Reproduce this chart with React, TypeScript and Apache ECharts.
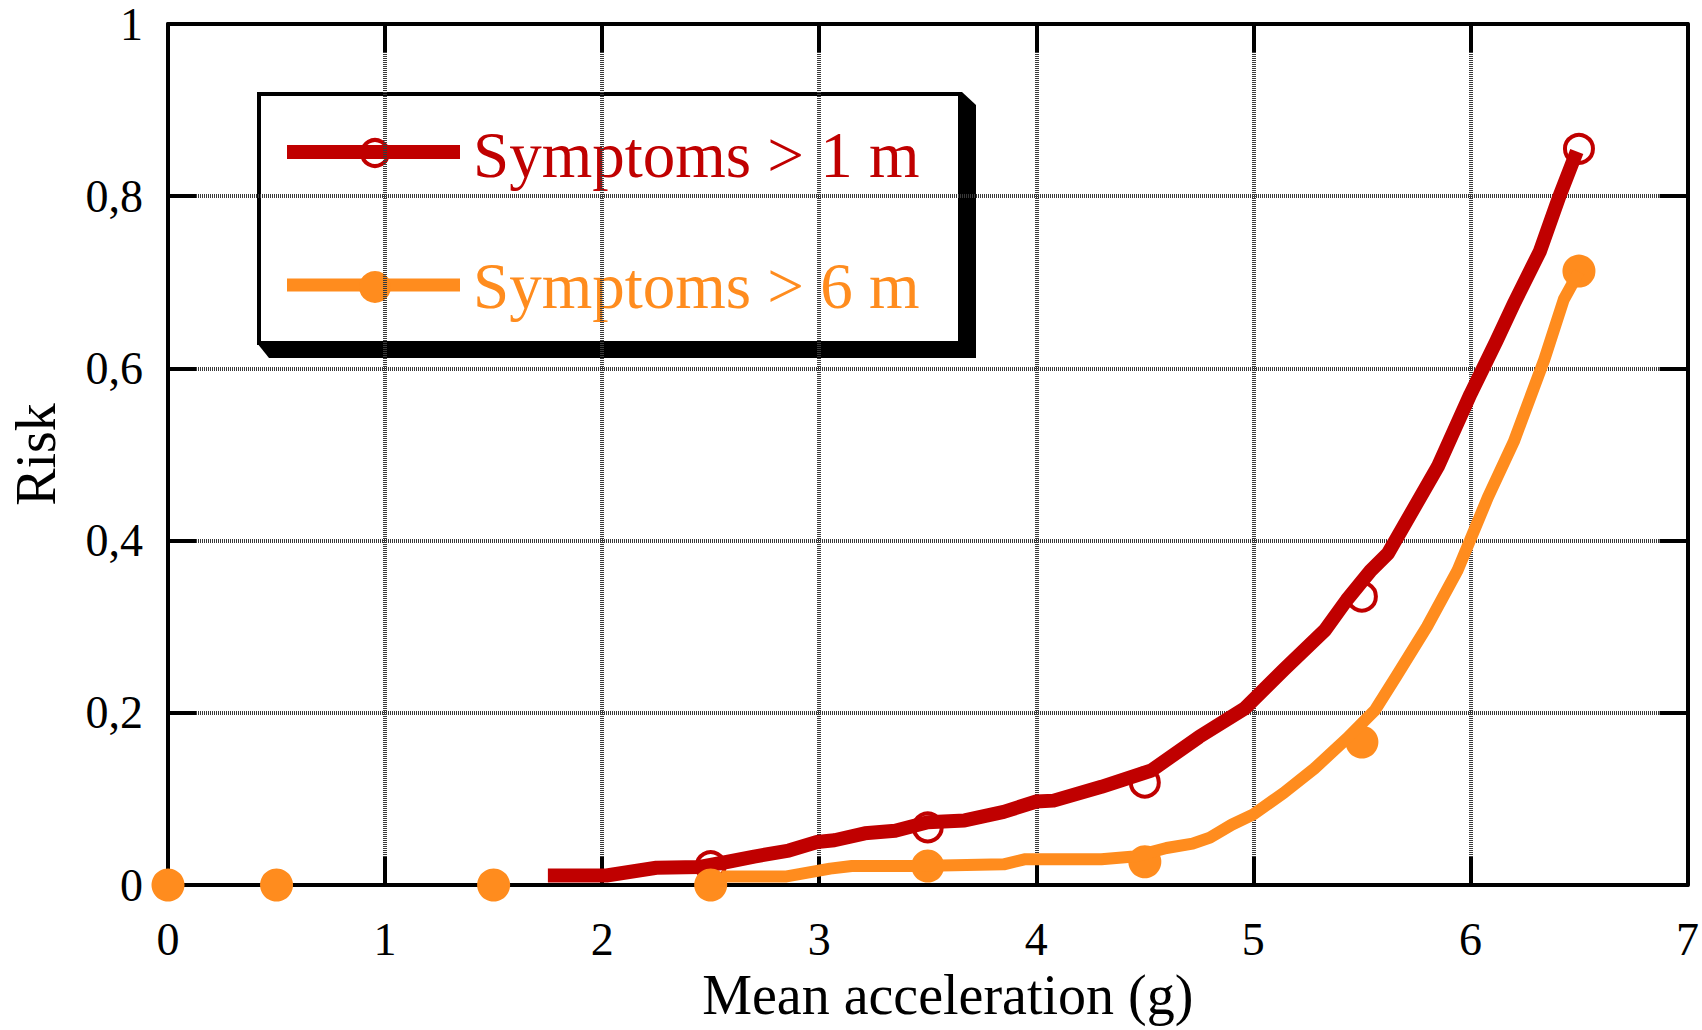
import React, { useEffect, useRef } from 'react';
import * as echarts from 'echarts';

const RED = '#C00000';
const ORANGE = '#FF8C1E';
const FONT = "'Liberation Serif', 'Times New Roman', serif";

const seriesNames = ['Symptoms > 1 m', 'Symptoms > 6 m'];
const xTickLabels = ['0', '1', '2', '3', '4', '5', '6', '7'];
const yTickLabels = ['0', '0,2', '0,4', '0,6', '0,8', '1'];
const xAxisTitle = 'Mean acceleration (g)';
const yAxisTitle = 'Risk';

// observed data points (markers)
const redPointsX = [2.5, 3.5, 4.5, 5.5, 6.5];
const redPointsY = [0.022, 0.067, 0.119, 0.335, 0.855];
const orangePointsX = [0, 0.5, 1.5, 2.5, 3.5, 4.5, 5.5, 6.5];
const orangePointsY = [0, 0, 0, 0, 0.022, 0.027, 0.166, 0.713];

// fitted risk curves
const redCurveX = [1.75, 2.02, 2.25, 2.45, 2.58, 2.7, 2.86, 2.99, 3.07, 3.21, 3.35, 3.5, 3.67, 3.85, 4.0, 4.08, 4.3, 4.53, 4.75, 4.96, 5.14, 5.33, 5.43, 5.54, 5.62, 5.85, 6.0, 6.12, 6.2, 6.32, 6.41, 6.49];
const redCurveY = [0.011, 0.011, 0.02, 0.021, 0.027, 0.033, 0.04, 0.05, 0.052, 0.06, 0.063, 0.073, 0.075, 0.085, 0.097, 0.098, 0.114, 0.133, 0.172, 0.205, 0.25, 0.296, 0.331, 0.365, 0.385, 0.486, 0.57, 0.632, 0.675, 0.736, 0.8, 0.852];
const orangeCurveX = [2.55, 2.85, 3.05, 3.15, 3.45, 3.85, 3.95, 4.3, 4.45, 4.6, 4.72, 4.8, 4.9, 5.0, 5.14, 5.28, 5.43, 5.56, 5.66, 5.8, 5.94, 6.08, 6.2, 6.34, 6.43, 6.5];
const orangeCurveY = [0.01, 0.01, 0.019, 0.022, 0.022, 0.024, 0.03, 0.03, 0.033, 0.043, 0.048, 0.055, 0.07, 0.082, 0.107, 0.135, 0.17, 0.203, 0.243, 0.3, 0.365, 0.45, 0.515, 0.61, 0.68, 0.712];

const zip = (xs: number[], ys: number[]) => xs.map((x, i) => [x, ys[i]]);

const frameAxis = {
  axisLine: { show: true, onZero: false, lineStyle: { color: '#000', width: 4 } },
  axisTick: { show: true, inside: true, length: 28, lineStyle: { color: '#000', width: 4 } },
};

const gridLineStyle = { color: '#3a3a3a', width: 4, type: [1, 1] };

function buildOption(): any {
  return {
    animation: false,
    backgroundColor: '#fff',
    grid: { left: 167, right: 11, top: 24, bottom: 145, containLabel: false },
    xAxis: [
      {
        type: 'value', min: 0, max: 7, interval: 1, position: 'bottom',
        ...frameAxis,
        axisLabel: {
          margin: 31, fontFamily: FONT, fontSize: 46, color: '#000',
          formatter: (v: number) => xTickLabels[Math.round(v)] ?? '',
        },
        splitLine: { show: true, showMinLine: false, showMaxLine: false, lineStyle: gridLineStyle },
        name: xAxisTitle, nameLocation: 'middle', nameGap: 78,
        nameTextStyle: { fontFamily: FONT, fontSize: 56, color: '#000', padding: [0, 0, 0, 40] },
      },
      {
        type: 'value', min: 0, max: 7, interval: 1, position: 'top',
        ...frameAxis,
        axisLabel: { show: false },
        splitLine: { show: false },
      },
    ],
    yAxis: [
      {
        type: 'value', min: 0, max: 1, interval: 0.2, position: 'left',
        ...frameAxis,
        axisLabel: {
          margin: 25, fontFamily: FONT, fontSize: 46, color: '#000',
          formatter: (v: number) => yTickLabels[Math.round(v / 0.2)] ?? '',
        },
        splitLine: { show: true, showMinLine: false, showMaxLine: false, lineStyle: gridLineStyle },
        name: yAxisTitle, nameLocation: 'middle', nameGap: 104, nameRotate: 90,
        nameTextStyle: { fontFamily: FONT, fontSize: 56, color: '#000' },
      },
      {
        type: 'value', min: 0, max: 1, interval: 0.2, position: 'right',
        ...frameAxis,
        axisLabel: { show: false },
        splitLine: { show: false },
      },
    ],
    series: [
      {
        name: seriesNames[0] + ' data', type: 'scatter', data: zip(redPointsX, redPointsY),
        symbol: 'circle', symbolSize: 28, clip: false, z: 3,
        itemStyle: { color: '#fff', borderColor: RED, borderWidth: 4, opacity: 1 },
      },
      {
        name: seriesNames[0], type: 'line', data: zip(redCurveX, redCurveY),
        showSymbol: false, symbol: 'none', z: 4,
        lineStyle: { color: RED, width: 14, cap: 'butt', join: 'round' },
      },
      {
        name: seriesNames[1] + ' data', type: 'scatter', data: zip(orangePointsX, orangePointsY),
        symbol: 'circle', symbolSize: 33, clip: false, z: 5,
        itemStyle: { color: ORANGE, opacity: 1 },
      },
      {
        name: seriesNames[1], type: 'line', data: zip(orangeCurveX, orangeCurveY),
        showSymbol: false, symbol: 'none', z: 6,
        lineStyle: { color: ORANGE, width: 12, cap: 'butt', join: 'round' },
      },
    ],
    graphic: [
      {
        type: 'group', z: 100,
        children: [
          {
            type: 'polygon',
            shape: { points: [[962, 92], [976, 105], [976, 358], [269, 358], [257, 343]] },
            style: { fill: '#000' },
          },
          {
            type: 'rect',
            shape: { x: 259, y: 94, width: 701, height: 249 },
            style: { fill: '#fff', stroke: '#000', lineWidth: 4 },
          },
          {
            type: 'circle', shape: { cx: 375, cy: 153, r: 13 },
            style: { fill: '#fff', stroke: RED, lineWidth: 4 },
          },
          {
            type: 'line', shape: { x1: 287, y1: 152, x2: 460, y2: 152 },
            style: { stroke: RED, lineWidth: 14 },
          },
          {
            type: 'text', x: 473, y: 155,
            style: { text: seriesNames[0], fill: RED, font: `65px ${FONT}`, verticalAlign: 'middle', align: 'left' },
          },
          {
            type: 'line', shape: { x1: 287, y1: 285, x2: 460, y2: 285 },
            style: { stroke: ORANGE, lineWidth: 13 },
          },
          {
            type: 'circle', shape: { cx: 375, cy: 287, r: 16 },
            style: { fill: ORANGE },
          },
          {
            type: 'text', x: 473, y: 286,
            style: { text: seriesNames[1], fill: ORANGE, font: `65px ${FONT}`, verticalAlign: 'middle', align: 'left' },
          },
        ],
      },
    ],
  };
}

export default function App() {
  const ref = useRef<HTMLDivElement>(null);
  useEffect(() => {
    if (!ref.current) return;
    const chart = echarts.init(ref.current, undefined, { renderer: 'svg' });
    chart.setOption(buildOption());
    return () => chart.dispose();
  }, []);
  return (
    <div
      ref={ref}
      style={{ position: 'absolute', left: 0, top: 0, width: 1702, height: 1030, background: '#fff' }}
    />
  );
}
